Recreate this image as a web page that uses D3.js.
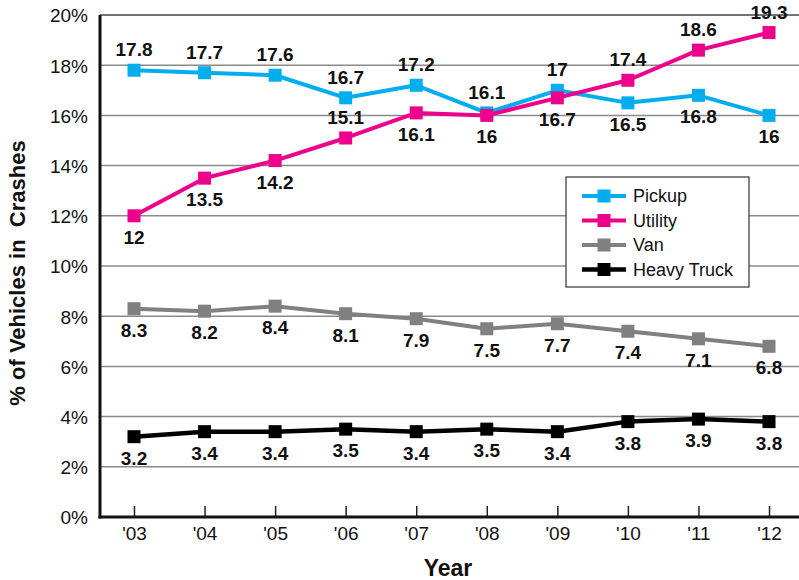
<!DOCTYPE html>
<html><head><meta charset="utf-8">
<script src="https://cdn.jsdelivr.net/npm/d3@7"></script>
<style>
body{margin:0;background:#fff;}
svg{display:block;}
.num{font-family:"Liberation Sans Narrow","Liberation Sans",Arial,sans-serif;}
</style></head>
<body>
<svg id="chart" width="799" height="580"></svg>
<script>
const years = ["'03","'04","'05","'06","'07","'08","'09","'10","'11","'12"];
const pickup = [17.8,17.7,17.6,16.7,17.2,16.1,17,16.5,16.8,16];
const utility = [12,13.5,14.2,15.1,16.1,16,16.7,17.4,18.6,19.3];
const van = [8.3,8.2,8.4,8.1,7.9,7.5,7.7,7.4,7.1,6.8];
const heavyTruck = [3.2,3.4,3.4,3.5,3.4,3.5,3.4,3.8,3.9,3.8];
const yTicks = [0,2,4,6,8,10,12,14,16,18,20];
// label placement: 1 = above, -1 = below
const pickupPos = [1,1,1,1,1,1,1,-1,-1,-1];
const utilityPos = [-1,-1,-1,1,-1,-1,-1,1,1,1];
const vanPos = [-1,-1,-1,-1,-1,-1,-1,-1,-1,-1];
const truckPos = [-1,-1,-1,-1,-1,-1,-1,-1,-1,-1];
const seriesNames = ["Pickup","Utility","Van","Heavy Truck"];
const seriesColors = ["#00aeef","#ec008c","#808080","#000000"];

const series = [
  {name:seriesNames[0], values:pickup, pos:pickupPos, color:seriesColors[0], w:4},
  {name:seriesNames[1], values:utility, pos:utilityPos, color:seriesColors[1], w:4},
  {name:seriesNames[2], values:van, pos:vanPos, color:seriesColors[2], w:4},
  {name:seriesNames[3], values:heavyTruck, pos:truckPos, color:seriesColors[3], w:4.5}
];

const svg = d3.select("#chart");
const mLeft = 100, mRight = 799, mTop = 15, mBottom = 517;
const x = d3.scalePoint().domain(years).range([134, 769]);
const y = d3.scaleLinear().domain([0,20]).range([mBottom, mTop]);

// gridlines
svg.append("g").selectAll("line").data(yTicks.filter(d=>d>0)).join("line")
  .attr("x1", mLeft).attr("x2", mRight)
  .attr("y1", d=>y(d)).attr("y2", d=>y(d))
  .attr("stroke", d=> d===20 ? "#444" : "#8a8a8a").attr("stroke-width", 1.5);

// y axis
const yAxis = d3.axisLeft(y).tickValues(yTicks).tickFormat(d=>d+"%").tickSize(0).tickPadding(12);
const gy = svg.append("g").attr("transform",`translate(${mLeft},0)`).call(yAxis);
gy.select(".domain").remove();
gy.selectAll("text").attr("class","num").style("font-size","19px").attr("fill","#111").attr("dy","0.36em");

// x axis
const xAxis = d3.axisTop(x).tickSize(11).tickFormat(d=>d);
const gx = svg.append("g").attr("transform",`translate(0,${mBottom})`).call(xAxis);
gx.select(".domain").remove();
gx.selectAll(".tick line").attr("stroke","#222").attr("stroke-width",1.5);
gx.selectAll("text").attr("class","num").attr("y",23).attr("dy","0").style("font-size","19px").attr("fill","#111");

// axis lines
svg.append("line").attr("x1",mLeft).attr("x2",mLeft).attr("y1",mTop).attr("y2",mBottom+1.5).attr("stroke","#111").attr("stroke-width",3);
svg.append("line").attr("x1",mLeft-1.5).attr("x2",mRight).attr("y1",mBottom).attr("y2",mBottom).attr("stroke","#111").attr("stroke-width",3);

// lines
const line = d3.line().x((d,i)=>x(years[i])).y(d=>y(d));
series.forEach(s=>{
  const g = svg.append("g");
  g.append("path").datum(s.values).attr("d", line).attr("fill","none")
    .attr("stroke", s.color).attr("stroke-width", s.w).attr("stroke-linejoin","round");
  g.selectAll("rect").data(s.values).join("rect")
    .attr("x",(d,i)=>x(years[i])-6.5).attr("y",d=>y(d)-6.5)
    .attr("width",13).attr("height",13).attr("fill",s.color);
});
// labels
series.forEach(s=>{
  svg.append("g").selectAll("text").data(s.values).join("text")
    .attr("class","num")
    .attr("x",(d,i)=>x(years[i]))
    .attr("y",(d,i)=> y(d) + (s.pos[i]>0 ? -14 : 28))
    .attr("text-anchor","middle")
    .style("font-size","19px").style("font-weight","bold").attr("fill","#111")
    .text(d=>d);
});

// legend
const lg = svg.append("g").attr("transform","translate(566,177)");
lg.append("rect").attr("x",0).attr("y",0).attr("width",183).attr("height",110)
  .attr("fill","#fff").attr("stroke","#333").attr("stroke-width",1.2);
series.forEach((s,i)=>{
  const cy = 19 + i*24.5;
  lg.append("line").attr("x1",16).attr("x2",60).attr("y1",cy).attr("y2",cy)
    .attr("stroke",s.color).attr("stroke-width",s.w);
  lg.append("rect").attr("x",38-6.5).attr("y",cy-6.5).attr("width",13).attr("height",13).attr("fill",s.color);
  lg.append("text").attr("x",67).attr("y",cy).attr("dy","0.35em")
    .style("font-family","'Liberation Sans',Arial,sans-serif").style("font-size","18px").attr("fill","#111")
    .text(s.name);
});

// axis titles
svg.append("text").attr("x",448).attr("y",576).attr("text-anchor","middle")
  .style("font-family","'Liberation Sans',Arial,sans-serif").style("font-size","23px").style("font-weight","bold").attr("fill","#111")
  .text("Year");
svg.append("text").attr("transform","translate(25,273) rotate(-90)").attr("text-anchor","middle")
  .style("font-family","'Liberation Sans',Arial,sans-serif").style("font-size","22px").style("font-weight","bold").attr("fill","#111")
  .style("white-space","pre")
  .text("% of Vehicles in  Crashes");
</script>
</body></html>
